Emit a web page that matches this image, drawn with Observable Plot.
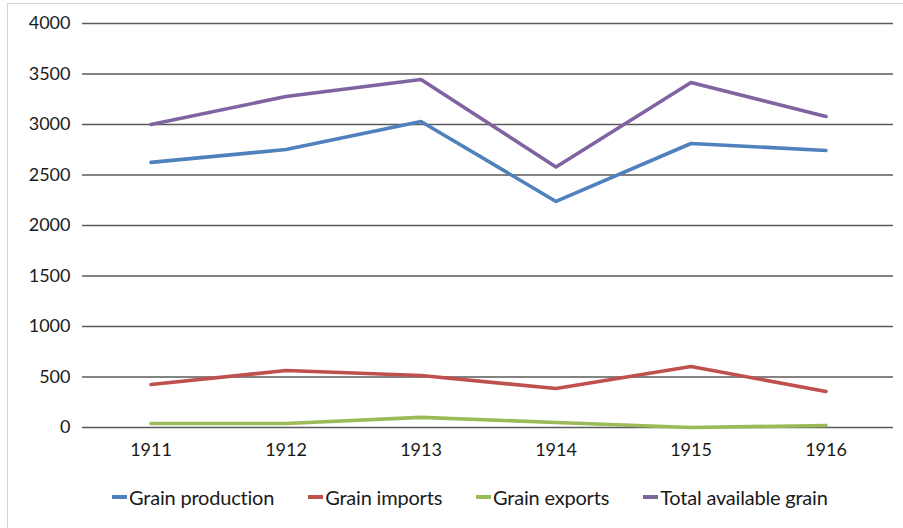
<!DOCTYPE html>
<html>
<head>
<meta charset="utf-8">
<script src="https://cdn.jsdelivr.net/npm/d3@7"></script>
<script src="https://cdn.jsdelivr.net/npm/@observablehq/plot@0.6"></script>
<style>
  body { margin: 0; background: #fff; font-family: Lato, "Open Sans", sans-serif; }
  #wrap { position: relative; width: 903px; height: 528px; overflow: hidden; }
  #frame { position: absolute; left: 7px; top: 3px; right: -5px; bottom: -5px; border-left: 1.5px solid #d4d4d4; border-top: 1.5px solid #d4d4d4; }
  #chart { position: absolute; left: 0; top: 0; }
  #legend { position: absolute; left: 112px; top: 485px; display: flex; font-size: 20px; color: #1a1a1a; letter-spacing: -0.2px; }
  .item { display: flex; align-items: center; margin-right: 34px; }
  .sw { width: 15px; height: 3.5px; margin-right: 2px; }
</style>
</head>
<body>
<div id="wrap">
  <div id="frame"></div>
  <div id="chart"></div>
  <div id="legend"></div>
</div>
<script>
const years = ["1911", "1912", "1913", "1914", "1915", "1916"];
const seriesNames = ["Grain production", "Grain imports", "Grain exports", "Total available grain"];
const seriesColors = ["#4F81BD", "#C0504D", "#9BBB59", "#8064A2"];
const production = [2625, 2752, 3030, 2238, 2812, 2743];
const imports = [425, 564, 515, 386, 604, 356];
const exports = [40, 40, 100, 50, 0, 20];
const totalAvailable = [3000, 3277, 3445, 2580, 3416, 3079];
const yTicks = [0, 500, 1000, 1500, 2000, 2500, 3000, 3500, 4000];

const valuesBySeries = [production, imports, exports, totalAvailable];
const data = [];
seriesNames.forEach((s, i) => years.forEach((y, j) => data.push({series: s, year: y, value: valuesBySeries[i][j]})));

const chart = Plot.plot({
  width: 903,
  height: 470,
  marginTop: 23,
  marginBottom: 43,
  marginLeft: 82,
  marginRight: 10,
  style: {fontFamily: "Lato, 'Open Sans', sans-serif", fontSize: "18px", color: "#1a1a1a", background: "transparent"},
  x: {type: "band", domain: years, padding: 0, label: null, tickSize: 0, tickPadding: 16},
  y: {domain: [0, 4000], ticks: yTicks, tickFormat: d3.format("d"), label: null, tickSize: 0, tickPadding: 12},
  color: {domain: seriesNames, range: seriesColors},
  marks: [
    Plot.ruleY(yTicks, {stroke: "#5a5a5a", strokeWidth: 1.6}),
    Plot.line(data, {x: "year", y: "value", z: "series", stroke: "series", strokeWidth: 3.6, strokeLinejoin: "round"})
  ]
});
document.getElementById("chart").appendChild(chart);

const legend = document.getElementById("legend");
seriesNames.forEach((s, i) => {
  const item = document.createElement("div");
  item.className = "item";
  const sw = document.createElement("span");
  sw.className = "sw";
  sw.style.background = seriesColors[i];
  const t = document.createElement("span");
  t.textContent = s;
  item.appendChild(sw); item.appendChild(t);
  legend.appendChild(item);
});
</script>
</body>
</html>
